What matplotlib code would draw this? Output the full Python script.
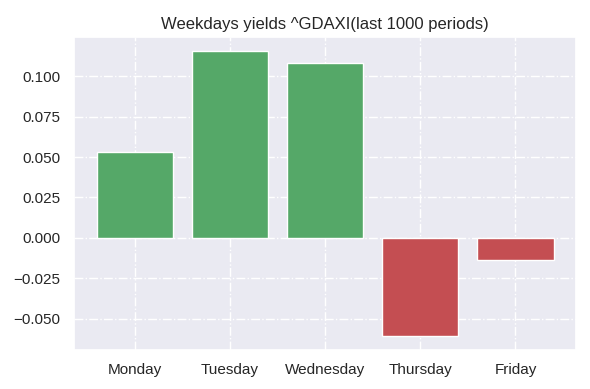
import matplotlib
matplotlib.use("Agg")
import matplotlib.pyplot as plt
import seaborn as sns

days = ["Monday", "Tuesday", "Wednesday", "Thursday", "Friday"]
yields = [0.0532, 0.1154, 0.1080, -0.0605, -0.0135]

sns.set_theme(style="darkgrid")
plt.rcParams["grid.linestyle"] = "-."
plt.rcParams["font.family"] = ["Liberation Sans", "DejaVu Sans"]

fig, ax = plt.subplots(figsize=(5.9, 3.89), dpi=100)
colors = ["#55a868" if v >= 0 else "#c44e52" for v in yields]
ax.bar(days, yields, color=colors, edgecolor="white", linewidth=1)
ax.set_title("Weekdays yields ^GDAXI(last 1000 periods)", fontsize=12)
ax.tick_params(labelsize=11)

fig.subplots_adjust(left=0.125, right=0.977, top=0.905, bottom=0.1)
fig.savefig("out.png")
